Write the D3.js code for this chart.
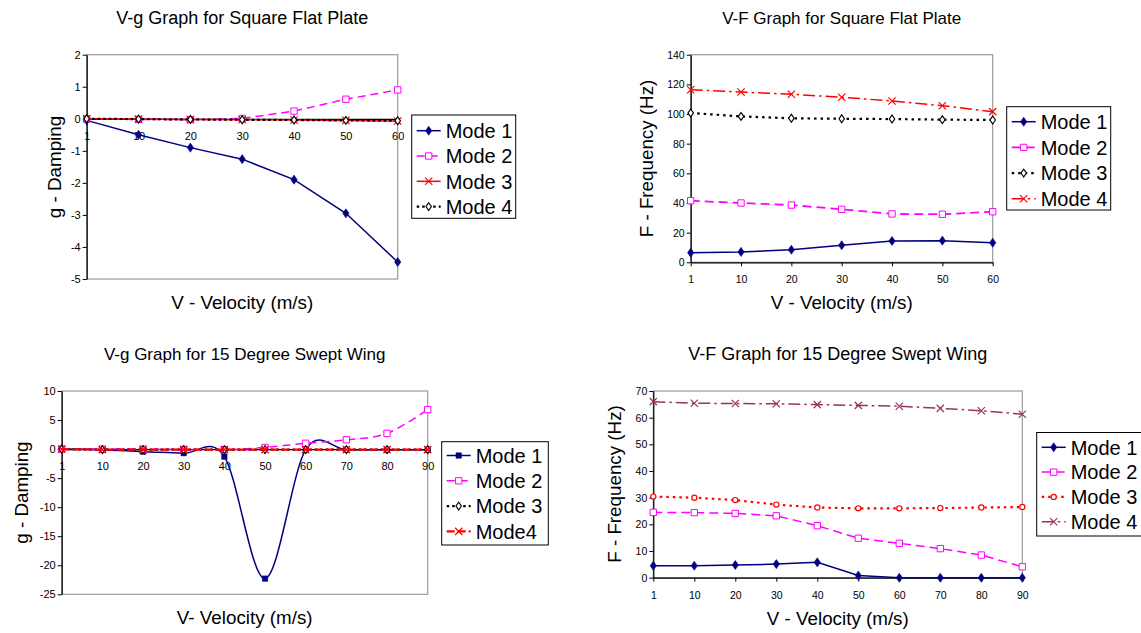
<!DOCTYPE html>
<html>
<head>
<meta charset="utf-8">
<script src="https://cdn.jsdelivr.net/npm/d3@7"></script>
<style>
  html, body { margin: 0; padding: 0; background: #fff; }
  svg { display: block; }
</style>
</head>
<body>
<svg id="chart" width="1141" height="633"></svg>
<script>
// ---------------- DATA ----------------
const velSquare = ["1", "10", "20", "30", "40", "50", "60"];
const velSwept  = ["1", "10", "20", "30", "40", "50", "60", "70", "80", "90"];

// V-g Square Flat Plate
const gSqMode1 = [-0.05, -0.5, -0.9, -1.26, -1.9, -2.95, -4.47];
const gSqMode2 = [0, -0.02, -0.03, 0.01, 0.24, 0.61, 0.9];
const gSqMode3 = [0, -0.01, -0.02, -0.03, -0.04, -0.05, -0.07];
const gSqMode4 = [0, -0.01, -0.02, -0.03, -0.04, -0.05, -0.06];

// V-F Square Flat Plate
const fSqMode1 = [6.5, 7, 8.5, 11.5, 14.4, 14.6, 13.2];
const fSqMode2 = [41.5, 40, 38.6, 35.7, 32.6, 32.4, 34.1];
const fSqMode3 = [100.7, 98.4, 97.1, 96.8, 96.6, 96.2, 96];
const fSqMode4 = [116.4, 114.8, 113.3, 111.3, 108.8, 105.6, 101.6];

// V-g 15 Degree Swept Wing
const gSwMode1 = [0, -0.1, -0.45, -0.7, -1.3, -22.3, -0.1, -0.1, -0.1, -0.1];
const gSwMode2 = [0, 0, 0, -0.05, -0.1, 0.28, 1.0, 1.6, 2.7, 6.8];
const gSwMode3 = [0, -0.1, -0.1, -0.1, -0.1, -0.1, -0.1, -0.1, -0.1, -0.1];
const gSwMode4 = [0, -0.1, -0.1, -0.1, -0.1, -0.1, -0.1, -0.1, -0.1, -0.1];

// V-F 15 Degree Swept Wing
const fSwMode1 = [4.5, 4.5, 4.75, 5.1, 5.75, 0.8, 0, 0, 0, 0];
const fSwMode2 = [24.5, 24.4, 24.1, 23.2, 19.5, 14.8, 12.9, 10.9, 8.5, 4.1];
const fSwMode3 = [30.4, 30, 29.1, 27.4, 26.3, 26, 26, 26.1, 26.3, 26.5];
const fSwMode4 = [66, 65.4, 65.3, 65.2, 64.9, 64.6, 64.3, 63.5, 62.6, 61.3];

// Tick labels
const gSqTicks = [-5, -4, -3, -2, -1, 0, 1, 2];
const fSqTicks = [0, 20, 40, 60, 80, 100, 120, 140];
const gSwTicks = [-25, -20, -15, -10, -5, 0, 5, 10];
const fSwTicks = [0, 10, 20, 30, 40, 50, 60, 70];

const seriesNames = ["Mode 1", "Mode 2", "Mode 3", "Mode 4"];
const seriesNamesSw = ["Mode 1", "Mode 2", "Mode 3", "Mode4"];

// ---------------- DRAWING ----------------
const FONT = "'Liberation Sans', Arial, Helvetica, sans-serif";
const svg = d3.select("#chart");

const smooth = d3.curveCardinal.tension(0);
const straight = d3.curveLinear;

function drawMarker(g, type, x, y, color) {
  const sym = d3.symbol();
  if (type === "diamondFilled") {
    g.append("path").attr("d", sym.type(d3.symbolDiamond).size(24)())
      .attr("transform", `translate(${x},${y}) scale(1.2,1)`).attr("fill", color).attr("stroke", color).attr("stroke-width", 0.5);
  } else if (type === "squareFilled") {
    g.append("path").attr("d", sym.type(d3.symbolSquare).size(30)())
      .attr("transform", `translate(${x},${y})`).attr("fill", color).attr("stroke", color).attr("stroke-width", 0.5);
  } else if (type === "squareOpen") {
    g.append("path").attr("d", sym.type(d3.symbolSquare).size(40)())
      .attr("transform", `translate(${x},${y})`).attr("fill", "#fff").attr("stroke", color).attr("stroke-width", 1);
  } else if (type === "diamondOpen") {
    g.append("path").attr("d", sym.type(d3.symbolDiamond).size(18)())
      .attr("transform", `translate(${x},${y}) scale(1.2,1)`).attr("fill", "#fff").attr("stroke", color).attr("stroke-width", 1);
  } else if (type === "circleOpen") {
    g.append("circle").attr("cx", x).attr("cy", y).attr("r", 2.6)
      .attr("fill", "#fff").attr("stroke", color).attr("stroke-width", 1.2);
  } else if (type === "times") {
    g.append("path").attr("d", sym.type(d3.symbolTimes).size(36)())
      .attr("transform", `translate(${x},${y})`).attr("fill", "none").attr("stroke", color).attr("stroke-width", 1.2);
  }
}

function panel(cfg) {
  const g = svg.append("g");
  const x = d3.scalePoint().domain(cfg.cats).range([cfg.left, cfg.right]);
  const y = d3.scaleLinear().domain(cfg.yDomain).range([cfg.bottom, cfg.top]);

  // plot area border
  g.append("rect")
    .attr("x", cfg.left).attr("y", cfg.top)
    .attr("width", cfg.right - cfg.left).attr("height", cfg.bottom - cfg.top)
    .attr("fill", "none").attr("stroke", "#9a9a9a").attr("stroke-width", 1.2);

  // y axis
  const yAxis = g.append("g").attr("transform", `translate(${cfg.left},0)`)
    .call(d3.axisLeft(y).tickValues(cfg.yTicks).tickFormat(d => String(d))
      .tickSize(4).tickSizeOuter(0).tickPadding(2));
  // x axis
  const xAxisY = y(cfg.xAxisAt);
  const xAxis = g.append("g").attr("transform", `translate(0,${xAxisY})`)
    .call(d3.axisBottom(x).tickSize(4).tickSizeOuter(0).tickPadding(9.5));
  [yAxis, xAxis].forEach(a => {
    a.selectAll("text").attr("font-family", FONT).attr("font-size", cfg.tickFont).attr("fill", "#000");
    a.selectAll("line").attr("stroke", "#000");
    a.select(".domain").attr("stroke", "#000").attr("stroke-width", 1.2);
  });

  // series
  cfg.series.forEach(s => {
    const line = d3.line().x((d, i) => x(cfg.cats[i])).y(d => y(d)).curve(s.smooth ? smooth : straight);
    g.append("path").datum(s.values).attr("d", line)
      .attr("fill", "none").attr("stroke", s.color).attr("stroke-width", s.width)
      .attr("stroke-dasharray", s.dash || null);
    const mg = g.append("g");
    s.values.forEach((v, i) => drawMarker(mg, s.marker, x(cfg.cats[i]), y(v), s.color));
  });

  // title
  g.append("text").attr("x", (cfg.left + cfg.right) / 2).attr("y", cfg.titleY)
    .attr("text-anchor", "middle").attr("font-family", FONT).attr("font-size", cfg.titleFont).text(cfg.title);
  // x title
  g.append("text").attr("x", (cfg.left + cfg.right) / 2).attr("y", cfg.xTitleY)
    .attr("text-anchor", "middle").attr("font-family", FONT).attr("font-size", 18.8).text(cfg.xTitle);
  // y title
  g.append("text").attr("transform", `translate(${cfg.yTitleX},${cfg.yTitleMid}) rotate(-90)`)
    .attr("text-anchor", "middle").attr("font-family", FONT).attr("font-size", 18.8).text(cfg.yTitle);

  // legend
  const L = cfg.legend;
  const lg = g.append("g");
  lg.append("rect").attr("x", L.x).attr("y", L.y).attr("width", L.w).attr("height", L.h)
    .attr("fill", "#fff").attr("stroke", "#000").attr("stroke-width", 1);
  cfg.series.forEach((s, i) => {
    const cy = L.row0 + i * L.step;
    lg.append("line").attr("x1", L.x + 5).attr("x2", L.x + 29).attr("y1", cy).attr("y2", cy)
      .attr("stroke", s.color).attr("stroke-width", s.width).attr("stroke-dasharray", s.legendDash || s.dash || null);
    drawMarker(lg, s.marker, L.x + 17, cy, s.color);
    lg.append("text").attr("x", L.x + 34).attr("y", cy).attr("dy", "0.36em")
      .attr("font-family", FONT).attr("font-size", 20).text(cfg.names[i]);
  });
}

const NAVY = "#000080", MAG = "#ff00ff", RED = "#ff0000", BLK = "#000000", MAROON = "#993366";

// Panel 1
panel({
  left: 86.7, right: 397.7, top: 54.7, bottom: 279, yDomain: [-5, 2], yTicks: gSqTicks, xAxisAt: 0,
  cats: velSquare, names: seriesNames, tickFont: 11, titleFont: 18,
  title: "V-g Graph for Square Flat Plate", titleY: 24,
  xTitle: "V - Velocity (m/s)", xTitleY: 309,
  yTitle: "g - Damping", yTitleX: 61, yTitleMid: 167,
  series: [
    { values: gSqMode1, color: NAVY, width: 1.5, marker: "diamondFilled" },
    { values: gSqMode2, color: MAG, width: 1.5, dash: "8,5", legendDash: null, marker: "squareOpen" },
    { values: gSqMode3, color: RED, width: 1.5, marker: "times" },
    { values: gSqMode4, color: BLK, width: 2.2, dash: "2.5,3", marker: "diamondOpen" }
  ],
  legend: { x: 411.7, y: 115, w: 104, h: 103.3, row0: 130.7, step: 25.3 }
});

// Panel 2
panel({
  left: 690.7, right: 992.7, top: 54.7, bottom: 262.3, yDomain: [0, 140], yTicks: fSqTicks, xAxisAt: 0,
  cats: velSquare, names: seriesNames, tickFont: 10.5, titleFont: 17,
  title: "V-F Graph for Square Flat Plate", titleY: 24,
  xTitle: "V - Velocity (m/s)", xTitleY: 309,
  yTitle: "F - Frequency (Hz)", yTitleX: 652.7, yTitleMid: 158.5,
  series: [
    { values: fSqMode1, color: NAVY, width: 1.5, marker: "diamondFilled" },
    { values: fSqMode2, color: MAG, width: 1.8, dash: "9,5", legendDash: null, marker: "squareOpen" },
    { values: fSqMode3, color: BLK, width: 2.2, dash: "2.5,4", marker: "diamondOpen" },
    { values: fSqMode4, color: RED, width: 1.5, dash: "12,4,2.5,4", legendDash: null, marker: "times" }
  ],
  legend: { x: 1006.7, y: 106.7, w: 104, h: 103.3, row0: 121.7, step: 25.7 }
});

// Panel 3
panel({
  left: 61.7, right: 427.7, top: 391, bottom: 594.3, yDomain: [-25, 10], yTicks: gSwTicks, xAxisAt: 0,
  cats: velSwept, names: seriesNamesSw, tickFont: 11, titleFont: 17,
  title: "V-g Graph for 15 Degree Swept Wing", titleY: 360,
  xTitle: "V- Velocity (m/s)", xTitleY: 624,
  yTitle: "g - Damping", yTitleX: 27.7, yTitleMid: 492.6,
  series: [
    { values: gSwMode1, color: NAVY, width: 1.5, marker: "squareFilled", smooth: true },
    { values: gSwMode2, color: MAG, width: 1.5, dash: "8,5", legendDash: null, marker: "squareOpen", smooth: true },
    { values: gSwMode3, color: BLK, width: 2.2, dash: "2.5,3", marker: "diamondOpen" },
    { values: gSwMode4, color: RED, width: 2.2, dash: "8,3", legendDash: null, marker: "times" }
  ],
  legend: { x: 441.7, y: 441.7, w: 106.6, h: 103.3, row0: 455.5, step: 25.3 }
});

// Panel 4
panel({
  left: 653.3, right: 1022.3, top: 391, bottom: 577.7, yDomain: [0, 70], yTicks: fSwTicks, xAxisAt: 0,
  cats: velSwept, names: seriesNames, tickFont: 10.5, titleFont: 18,
  title: "V-F Graph for 15 Degree Swept Wing", titleY: 360,
  xTitle: "V - Velocity (m/s)", xTitleY: 625,
  yTitle: "F - Frequency (Hz)", yTitleX: 621, yTitleMid: 484,
  series: [
    { values: fSwMode1, color: NAVY, width: 1.5, marker: "diamondFilled" },
    { values: fSwMode2, color: MAG, width: 1.5, dash: "9,5", legendDash: null, marker: "squareOpen" },
    { values: fSwMode3, color: RED, width: 2.2, dash: "2.5,4", marker: "circleOpen" },
    { values: fSwMode4, color: MAROON, width: 1.5, dash: "12,4,2.5,4", legendDash: null, marker: "times" }
  ],
  legend: { x: 1036.7, y: 432.5, w: 106, h: 103.5, row0: 447.3, step: 24.8 }
});
</script>
</body>
</html>
